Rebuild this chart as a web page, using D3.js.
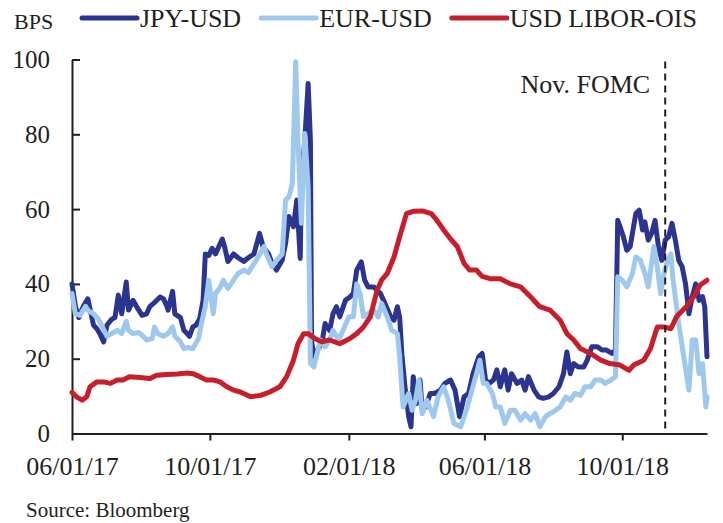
<!DOCTYPE html>
<html>
<head>
<meta charset="utf-8">
<script src="https://cdn.jsdelivr.net/npm/d3@7"></script>
<style>
  body { margin: 0; background: #fff; }
  svg text { font-family: "Liberation Serif", "Times New Roman", serif; fill: #231f20; }
  .axis path, .axis line { stroke: #231f20; stroke-width: 2; }
</style>
</head>
<body>
<div id="viz"></div>
<script>
/***************** Data ****************************************************/
var jpyDates = ["2017-06-01","2017-06-04","2017-06-07","2017-06-11","2017-06-15","2017-06-20","2017-06-23","2017-06-26","2017-06-29","2017-07-02","2017-07-06","2017-07-09","2017-07-12","2017-07-15","2017-07-19","2017-07-21","2017-07-25","2017-07-28","2017-08-02","2017-08-06","2017-08-09","2017-08-13","2017-08-18","2017-08-21","2017-08-24","2017-08-25","2017-08-29","2017-08-31","2017-09-05","2017-09-08","2017-09-11","2017-09-13","2017-09-16","2017-09-19","2017-09-22","2017-09-25","2017-09-27","2017-09-30","2017-10-03","2017-10-06","2017-10-09","2017-10-12","2017-10-14","2017-10-17","2017-10-22","2017-10-26","2017-10-31","2017-11-04","2017-11-09","2017-11-14","2017-11-17","2017-11-22","2017-11-25","2017-11-29","2017-12-04","2017-12-07","2017-12-10","2017-12-14","2017-12-17","2017-12-20","2017-12-21","2017-12-24","2017-12-27","2017-12-29","2017-12-30","2018-01-01","2018-01-04","2018-01-08","2018-01-11","2018-01-15","2018-01-18","2018-01-21","2018-01-24","2018-01-29","2018-02-02","2018-02-05","2018-02-08","2018-02-12","2018-02-15","2018-02-18","2018-02-23","2018-03-01","2018-03-05","2018-03-10","2018-03-13","2018-03-16","2018-03-18","2018-03-20","2018-03-23","2018-03-26","2018-03-28","2018-03-30","2018-04-02","2018-04-05","2018-04-07","2018-04-10","2018-04-14","2018-04-18","2018-04-23","2018-04-27","2018-05-02","2018-05-06","2018-05-10","2018-05-14","2018-05-18","2018-05-22","2018-05-27","2018-05-30","2018-06-02","2018-06-05","2018-06-09","2018-06-12","2018-06-15","2018-06-19","2018-06-22","2018-06-25","2018-06-30","2018-07-04","2018-07-07","2018-07-10","2018-07-15","2018-07-19","2018-07-23","2018-07-28","2018-08-01","2018-08-06","2018-08-10","2018-08-13","2018-08-16","2018-08-19","2018-08-23","2018-08-28","2018-08-31","2018-09-04","2018-09-09","2018-09-13","2018-09-17","2018-09-22","2018-09-25","2018-09-27","2018-09-29","2018-10-02","2018-10-05","2018-10-08","2018-10-13","2018-10-16","2018-10-19","2018-10-21","2018-10-24","2018-10-27","2018-10-30","2018-11-02","2018-11-05","2018-11-08","2018-11-11","2018-11-14","2018-11-17","2018-11-20","2018-11-23","2018-11-26","2018-11-29","2018-12-02","2018-12-05","2018-12-08","2018-12-11","2018-12-13","2018-12-15"];
var jpyValues = [40,34,31,34,36,29,28,26.5,24.5,29,30.5,31,37,32,40.5,33,35.6,34,31.6,32,34,35,36.5,36,34,33,38,32,31,27.6,26.7,26,28.5,29,30.7,35.6,48,47.6,49.5,48,50,52,50,46,48,47,46,47,48,53.5,50,48,45.5,43.7,46.3,50.8,58,55.3,62.4,46.8,67.7,78.4,93.6,78.4,25,20.5,22.3,24,29.4,27.6,32,33.9,31.2,35.6,36.5,37.4,43.7,45.9,41,39.2,39.2,37.4,34.8,31.2,30.3,33.9,31,21,11.6,4.5,1.8,15.2,8,14.3,6.2,7.1,10.7,10.7,11.6,13.4,14.3,11.6,4.5,9.8,10.7,16,20.5,21.4,14.3,13.4,14.3,17,12.5,17,11.6,16,13.4,14.3,11.6,15.2,11.6,9.8,9.4,9.8,10.7,12.5,16,21.8,16,18.7,17.8,17.8,19.6,23.2,23.2,22.3,22.3,21.4,22.3,57,55.3,52.6,49,50,58.8,59.7,54.4,56.6,51.7,53.5,57,50,46.3,51.7,52.6,56.2,51.7,46.3,44.6,40,32,36.6,40,35.6,36.6,33.9,20.5];

var eurDates = ["2017-06-01","2017-06-04","2017-06-08","2017-06-13","2017-06-15","2017-06-20","2017-06-24","2017-06-27","2017-07-02","2017-07-06","2017-07-11","2017-07-15","2017-07-19","2017-07-21","2017-07-25","2017-07-30","2017-08-03","2017-08-06","2017-08-11","2017-08-13","2017-08-16","2017-08-21","2017-08-25","2017-08-29","2017-08-31","2017-09-05","2017-09-08","2017-09-12","2017-09-16","2017-09-21","2017-09-24","2017-09-27","2017-09-30","2017-10-04","2017-10-06","2017-10-10","2017-10-13","2017-10-17","2017-10-22","2017-10-26","2017-10-31","2017-11-04","2017-11-11","2017-11-18","2017-11-20","2017-11-25","2017-11-29","2017-12-04","2017-12-07","2017-12-10","2017-12-13","2017-12-16","2017-12-18","2017-12-21","2017-12-24","2017-12-27","2017-12-29","2018-01-01","2018-01-04","2018-01-07","2018-01-11","2018-01-15","2018-01-18","2018-01-23","2018-01-27","2018-02-01","2018-02-05","2018-02-08","2018-02-11","2018-02-14","2018-02-18","2018-02-23","2018-02-27","2018-03-02","2018-03-07","2018-03-11","2018-03-16","2018-03-18","2018-03-21","2018-03-26","2018-03-29","2018-04-01","2018-04-04","2018-04-07","2018-04-11","2018-04-17","2018-04-21","2018-04-26","2018-04-30","2018-05-05","2018-05-11","2018-05-16","2018-05-21","2018-05-25","2018-05-28","2018-05-31","2018-06-03","2018-06-08","2018-06-11","2018-06-15","2018-06-19","2018-06-24","2018-06-28","2018-07-03","2018-07-07","2018-07-12","2018-07-16","2018-07-20","2018-07-25","2018-07-29","2018-08-03","2018-08-07","2018-08-12","2018-08-16","2018-08-20","2018-08-25","2018-08-29","2018-09-03","2018-09-07","2018-09-12","2018-09-16","2018-09-21","2018-09-25","2018-09-27","2018-10-01","2018-10-05","2018-10-10","2018-10-13","2018-10-17","2018-10-21","2018-10-24","2018-10-29","2018-11-01","2018-11-04","2018-11-07","2018-11-10","2018-11-13","2018-11-15","2018-11-20","2018-11-24","2018-11-29","2018-12-02","2018-12-05","2018-12-08","2018-12-11","2018-12-14","2018-12-15"];
var eurValues = [37.4,32,31.6,34,33,32,30.7,29,26,26.7,27.6,26.7,30,27.6,26.7,27,26,25,25.4,28.5,26.7,26,26.7,28.5,26,24.5,22.7,23,22.7,25.4,30,34,41,32,37.4,39,41,38.8,41,42.8,43.7,43,46.3,50,48,44.6,46.3,48,62.4,63.3,66.8,99.4,78.4,56.2,80.2,66,18.7,17.8,21.4,25,23.2,25,27.6,25,27.6,31.2,31.2,40,37.4,31.2,32,33,31.2,34.8,31.2,27.6,26.7,20.5,7.1,10.7,6.2,8.9,14.3,5.3,8.9,4.5,9.8,12.5,8.9,2.7,1.8,6.2,11.6,16,19.6,13.4,13.4,10.7,7.1,7.1,2.7,6.2,6.2,3.6,5.3,3.6,5.3,1.8,4.5,5.3,6.2,7.1,9.8,8.9,10.7,10.2,12.5,12.5,14.3,14.3,13.4,14.3,15.2,41.9,41,39.2,42.8,47.2,46.3,42.8,39.2,50,44.6,37.4,42.8,46.3,48,41,29.4,21.4,11.6,25,25,16,18.7,7.1,9.8];

var liborDates = ["2017-06-01","2017-06-05","2017-06-10","2017-06-14","2017-06-17","2017-06-23","2017-06-29","2017-07-05","2017-07-11","2017-07-16","2017-07-22","2017-07-31","2017-08-09","2017-08-15","2017-08-24","2017-09-02","2017-09-11","2017-09-16","2017-09-22","2017-09-28","2017-10-04","2017-10-10","2017-10-16","2017-10-22","2017-10-28","2017-11-06","2017-11-15","2017-11-23","2017-12-02","2017-12-08","2017-12-14","2017-12-18","2017-12-23","2017-12-27","2018-01-02","2018-01-08","2018-01-15","2018-01-24","2018-02-02","2018-02-08","2018-02-14","2018-02-20","2018-02-26","2018-03-02","2018-03-07","2018-03-13","2018-03-18","2018-03-24","2018-03-30","2018-04-07","2018-04-15","2018-04-20","2018-04-26","2018-05-02","2018-05-08","2018-05-14","2018-05-19","2018-05-25","2018-05-30","2018-06-06","2018-06-15","2018-06-24","2018-07-03","2018-07-12","2018-07-20","2018-07-29","2018-08-07","2018-08-13","2018-08-19","2018-08-25","2018-09-03","2018-09-12","2018-09-20","2018-09-29","2018-10-07","2018-10-11","2018-10-20","2018-10-26","2018-11-01","2018-11-07","2018-11-13","2018-11-18","2018-11-27","2018-12-03","2018-12-09","2018-12-15"];
var liborValues = [11,9.8,8.9,9.8,12.5,13.8,13.8,13.4,14.3,14.3,15.2,15,14.7,15.6,15.8,15.9,16.2,16,15.2,14.3,14.3,13.8,12.5,11.6,11.1,9.8,10.2,11.1,12.5,15.2,19.6,24,26.7,26.7,25.4,24.5,25,24,25.4,26.7,28.5,31.2,38.3,41,42.8,47.2,52.6,58.8,59.4,59.5,58.8,57,54.4,52,50,45.5,43.7,43.7,42,41.4,41.4,40,39.2,36.5,33.9,33,30.3,26.7,25,22.7,21.4,19.6,18.7,18.3,16.9,18.3,19.6,22.7,28.5,28.5,28,31.2,34,36.5,39.7,41];

var seriesNames = ["JPY-USD", "EUR-USD", "USD LIBOR-OIS"];
var seriesColors = ["#2b3590", "#9fc9ec", "#c61f2b"];
var xTickDates = ["2017-06-01", "2017-10-01", "2018-02-01", "2018-06-01", "2018-10-01"];
var yTicks = [0, 20, 40, 60, 80, 100];
var xStart = "2017-06-01", xEnd = "2018-12-15";
var fomcDate = "2018-11-08", fomcLabel = "Nov. FOMC";
var unitLabel = "BPS";
var sourceLabel = "Source: Bloomberg";

/***************** Build Chart *********************/
var W = 723, H = 523;
var margin = {top: 59.5, right: 16, bottom: 89.5, left: 72};
var w = W - margin.left - margin.right,
    h = H - margin.top - margin.bottom;
var parse = d3.timeParse("%Y-%m-%d");

var svg = d3.select("#viz").append("svg")
    .attr("width", W)
    .attr("height", H);
var g = svg.append("g")
    .attr("transform", "translate(" + margin.left + "," + margin.top + ")");

var x = d3.scaleTime().domain([parse(xStart), parse(xEnd)]).range([0, w]);
var y = d3.scaleLinear().domain([0, 100]).range([h, 0]);

var series = [
  {name: seriesNames[0], color: seriesColors[0], pts: jpyDates.map(function(d, i) { return [parse(d), jpyValues[i]]; })},
  {name: seriesNames[1], color: seriesColors[1], pts: eurDates.map(function(d, i) { return [parse(d), eurValues[i]]; })},
  {name: seriesNames[2], color: seriesColors[2], pts: liborDates.map(function(d, i) { return [parse(d), liborValues[i]]; })}
];

/* Axes */
var xAxis = d3.axisBottom(x)
    .tickValues(xTickDates.map(parse))
    .tickFormat(d3.timeFormat("%m/%d/%y"))
    .tickSizeInner(7).tickSizeOuter(0).tickPadding(10);
var yAxis = d3.axisLeft(y)
    .tickValues(yTicks)
    .tickSizeInner(-8).tickSizeOuter(0).tickPadding(22);

var gx = g.append("g").attr("class", "axis")
    .attr("transform", "translate(0," + h + ")")
    .call(xAxis);
gx.selectAll("text").style("font-size", "26px").attr("dy", "0.95em");

var gy = g.append("g").attr("class", "axis").call(yAxis);
gy.selectAll("text").style("font-size", "25px");

/* Lines */
var line = d3.line()
    .x(function(d) { return x(d[0]); })
    .y(function(d) { return y(d[1]); });

g.selectAll(".series").data(series).enter()
  .append("path")
    .attr("class", "series")
    .attr("d", function(d) { return line(d.pts); })
    .attr("fill", "none")
    .attr("stroke", function(d) { return d.color; })
    .attr("stroke-width", 5)
    .attr("stroke-linejoin", "round")
    .attr("stroke-linecap", "round");

/* Nov. FOMC marker */
var fx = x(parse(fomcDate));
g.append("line")
    .attr("x1", fx).attr("x2", fx)
    .attr("y1", 2).attr("y2", h)
    .attr("stroke", "#231f20")
    .attr("stroke-width", 2)
    .attr("stroke-dasharray", "7,5");
g.append("text")
    .attr("x", fx - 15)
    .attr("y", 33)
    .attr("text-anchor", "end")
    .style("font-size", "26px")
    .text(fomcLabel);

/* Legend */
svg.append("text")
    .attr("x", 14).attr("y", 29)
    .style("font-size", "22px")
    .text(unitLabel);

var lx = 82;
series.forEach(function(s) {
  svg.append("line")
      .attr("x1", lx).attr("x2", lx + 55)
      .attr("y1", 18).attr("y2", 18)
      .attr("stroke", s.color)
      .attr("stroke-width", 5)
      .attr("stroke-linecap", "round");
  var t = svg.append("text")
      .attr("x", lx + 58).attr("y", 27)
      .style("font-size", "26px")
      .text(s.name);
  lx += 58 + t.node().getComputedTextLength() + 20;
});

/* Source */
svg.append("text")
    .attr("x", 26).attr("y", 517)
    .style("font-size", "21px")
    .text(sourceLabel);
</script>
</body>
</html>
